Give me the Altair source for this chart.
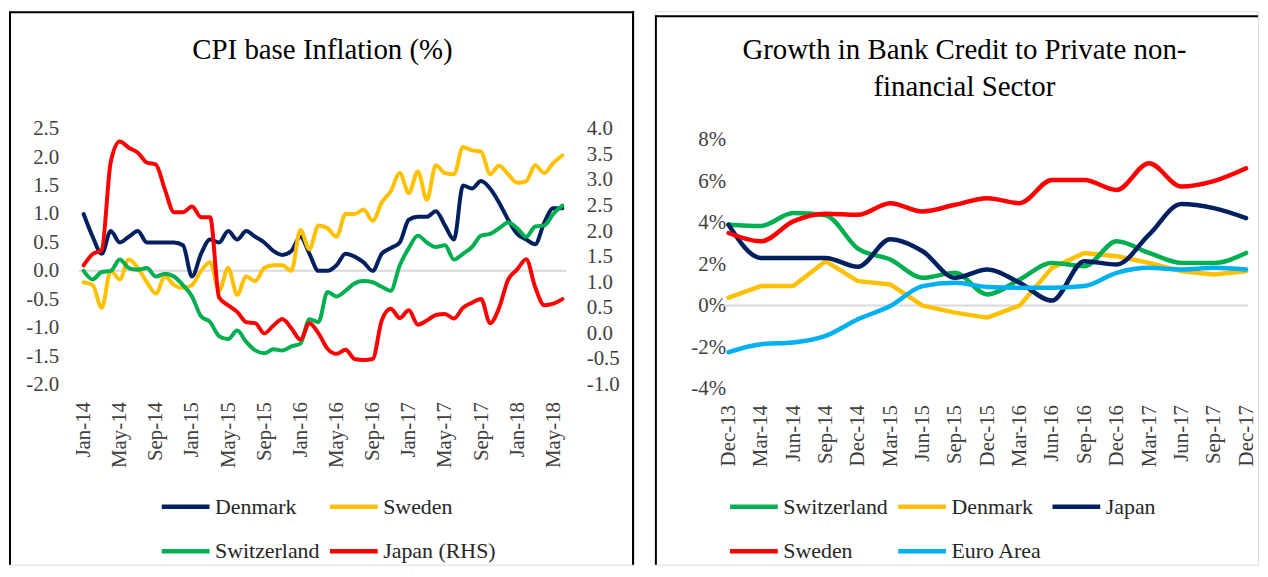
import altair as alt
import pandas as pd

FONT = "Liberation Serif"
LABEL_COLOR = "#404040"

# ---------------- Left panel: CPI base inflation (monthly) ----------------
months = [
    "Jan-14", "Feb-14", "Mar-14", "Apr-14", "May-14", "Jun-14", "Jul-14", "Aug-14", "Sep-14", "Oct-14", "Nov-14", "Dec-14",
    "Jan-15", "Feb-15", "Mar-15", "Apr-15", "May-15", "Jun-15", "Jul-15", "Aug-15", "Sep-15", "Oct-15", "Nov-15", "Dec-15",
    "Jan-16", "Feb-16", "Mar-16", "Apr-16", "May-16", "Jun-16", "Jul-16", "Aug-16", "Sep-16", "Oct-16", "Nov-16", "Dec-16",
    "Jan-17", "Feb-17", "Mar-17", "Apr-17", "May-17", "Jun-17", "Jul-17", "Aug-17", "Sep-17", "Oct-17", "Nov-17", "Dec-17",
    "Jan-18", "Feb-18", "Mar-18", "Apr-18", "May-18", "Jun-18",
]
month_ticks = ["Jan-14", "May-14", "Sep-14", "Jan-15", "May-15", "Sep-15", "Jan-16",
               "May-16", "Sep-16", "Jan-17", "May-17", "Sep-17", "Jan-18", "May-18"]

denmark_cpi = [1.0, 0.6, 0.3, 0.7, 0.5, 0.6, 0.7, 0.5, 0.5, 0.5, 0.5, 0.45,
               -0.1, 0.3, 0.55, 0.5, 0.7, 0.55, 0.7, 0.6, 0.5, 0.35, 0.28, 0.35,
               0.6, 0.3, 0.0, 0.0, 0.1, 0.3, 0.25, 0.15, 0.0, 0.3, 0.4, 0.5,
               0.9, 0.95, 0.95, 1.05, 0.8, 0.55, 1.5, 1.45, 1.58, 1.45, 1.2, 0.9,
               0.65, 0.55, 0.47, 0.85, 1.1, 1.1]
sweden_cpi = [-0.2, -0.25, -0.65, 0.0, -0.15, 0.2, 0.05, -0.2, -0.4, -0.1, -0.25, -0.3,
              -0.25, 0.0, 0.15, -0.35, 0.05, -0.42, -0.1, -0.18, 0.05, 0.1, 0.1, 0.0,
              0.72, 0.38, 0.8, 0.75, 0.6, 1.0, 1.0, 1.08, 0.88, 1.2, 1.4, 1.72,
              1.37, 1.75, 1.25, 1.86, 1.72, 1.7, 2.18, 2.12, 2.1, 1.7, 1.85, 1.7,
              1.55, 1.58, 1.86, 1.72, 1.9, 2.03]
switzerland_cpi = [0.0, -0.15, -0.02, 0.0, 0.2, 0.05, 0.02, 0.05, -0.1, -0.05, -0.1, -0.25,
                   -0.45, -0.8, -0.9, -1.15, -1.2, -1.05, -1.25, -1.4, -1.45, -1.38, -1.4, -1.33,
                   -1.28, -0.85, -0.9, -0.37, -0.45, -0.35, -0.22, -0.18, -0.2, -0.28, -0.35, 0.1,
                   0.4, 0.62, 0.5, 0.42, 0.45, 0.2, 0.3, 0.42, 0.62, 0.65, 0.75, 0.85,
                   0.75, 0.6, 0.78, 0.8, 1.0, 1.15]
japan_cpi = [1.33, 1.55, 1.63, 3.35, 3.75, 3.63, 3.53, 3.34, 3.3, 2.81, 2.37, 2.37,
             2.48, 2.27, 2.27, 0.7, 0.55, 0.42, 0.22, 0.2, 0.0, 0.15, 0.28, 0.1,
             -0.12, 0.2, 0.0, -0.3, -0.4, -0.32, -0.5, -0.52, -0.5, 0.25, 0.48, 0.3,
             0.45, 0.17, 0.25, 0.36, 0.38, 0.29, 0.5, 0.6, 0.67, 0.2, 0.5, 1.05,
             1.25, 1.45, 0.9, 0.55, 0.58, 0.67]

left_domain = ["Denmark", "Sweden", "Switzerland", "Japan (RHS)"]
left_colors = ["#002060", "#FFC000", "#00B050", "#FF0000"]
left_ticks = [-2.0, -1.5, -1.0, -0.5, 0.0, 0.5, 1.0, 1.5, 2.0, 2.5]
right_ticks = [-1.0, -0.5, 0.0, 0.5, 1.0, 1.5, 2.0, 2.5, 3.0, 3.5, 4.0]
left_title = ["CPI base Inflation (%)"]

# ---------------- Right panel: bank credit growth (quarterly) ----------------
quarters = ["Dec-13", "Mar-14", "Jun-14", "Sep-14", "Dec-14", "Mar-15", "Jun-15", "Sep-15", "Dec-15",
            "Mar-16", "Jun-16", "Sep-16", "Dec-16", "Mar-17", "Jun-17", "Sep-17", "Dec-17"]
switzerland_credit = [3.9, 3.84, 4.46, 4.35, 2.75, 2.22, 1.34, 1.58, 0.54, 1.26, 2.06, 1.9, 3.1, 2.54, 2.06, 2.06, 2.54]
denmark_credit = [0.38, 0.94, 0.94, 2.14, 1.18, 1.02, 0.0, -0.34, -0.58, 0.0, 1.82, 2.54, 2.38, 2.06, 1.66, 1.5, 1.66]
japan_credit = [3.9, 2.3, 2.3, 2.3, 1.87, 3.2, 2.62, 1.34, 1.74, 1.1, 0.24, 2.14, 1.98, 3.42, 4.9, 4.7, 4.22]
sweden_credit = [3.5, 3.1, 4.06, 4.43, 4.38, 4.94, 4.54, 4.86, 5.18, 4.94, 6.06, 6.06, 5.58, 6.86, 5.74, 6.0, 6.62]
euro_credit = [-2.25, -1.86, -1.78, -1.46, -0.66, -0.02, 0.94, 1.1, 0.9, 0.86, 0.86, 0.94, 1.58, 1.82, 1.74, 1.82, 1.74]

credit_domain = ["Switzerland", "Denmark", "Japan", "Sweden", "Euro Area"]
credit_colors = ["#00B050", "#FFC000", "#002060", "#FF0000", "#00B0F0"]
credit_ticks = [-4, -2, 0, 2, 4, 6, 8]
right_title = ["Growth in Bank Credit to Private non-", "financial Sector"]

# ---------------- tables ----------------
def long_table(names, series, labels):
    rows = []
    for name, vals in zip(names, series):
        for i, (lab, v) in enumerate(zip(labels, vals)):
            rows.append({"series": name, "period": lab, "idx": i, "value": v})
    return pd.DataFrame(rows)

cpi_df = long_table(left_domain, [denmark_cpi, sweden_cpi, switzerland_cpi, japan_cpi], months)
credit_df = long_table(credit_domain,
                       [switzerland_credit, denmark_credit, japan_credit, sweden_credit, euro_credit],
                       quarters)
one = pd.DataFrame({"k": [0]})

H = 556
W1 = 628
W2 = 606


def axis_common(**kw):
    base = dict(ticks=False, tickSize=0, domain=False, grid=False, title=None,
                labelFont=FONT, labelFontSize=21, labelColor=LABEL_COLOR, labelOverlap=False)
    base.update(kw)
    return alt.Axis(**base)


def legend_common(x, y, columns, col_pad):
    return alt.Legend(orient="none", legendX=x, legendY=y, columns=columns, direction="horizontal",
                      gridAlign="each", title=None, symbolType="stroke", symbolStrokeWidth=4.5,
                      symbolSize=2304, labelFont=FONT, labelFontSize=22, labelColor="#262626",
                      labelOffset=3, columnPadding=col_pad, rowPadding=7, padding=0)


def frame(width, top, right_edge):
    layers = [
        alt.Chart(one).mark_rule(color="black", strokeWidth=2).encode(
            x=alt.value(1), x2=alt.value(width), y=alt.value(top + 1)),
        alt.Chart(one).mark_rule(color="black", strokeWidth=2).encode(
            x=alt.value(1), y=alt.value(top), y2=alt.value(H)),
    ]
    if right_edge:
        layers.append(alt.Chart(one).mark_rule(color="black", strokeWidth=2).encode(
            x=alt.value(width - 1), y=alt.value(top), y2=alt.value(H)))
    return layers


def title_layers(lines, cx, y0, dy):
    df = pd.DataFrame({"line": lines, "row": list(range(len(lines)))})
    return alt.Chart(df).transform_calculate(ypos=f"{y0} + datum.row * {dy}").mark_text(
        font=FONT, fontSize=29, color="black", align="center", baseline="middle").encode(
        x=alt.value(cx), y=alt.Y("ypos:Q", scale=None), text="line:N")


tick_list = "[" + ",".join(f"'{t}'" for t in month_ticks) + "]"

# ---------------- left chart ----------------
x_left = alt.X("period:O",
               scale=alt.Scale(type="point", domain=months, range=[75, 556], padding=0),
               axis=axis_common(labelAngle=270, offset=-166, labelPadding=2,
                                labelExpr=f"indexof({tick_list}, datum.value) >= 0 ? datum.value : ''"))
color_left = alt.Color("series:N", scale=alt.Scale(domain=left_domain, range=left_colors),
                       legend=legend_common(151, 471, 2, 0))

zero_left = alt.Chart(one).mark_rule(color="#D9D9D9", strokeWidth=2).encode(
    x=alt.value(70), x2=alt.value(560), y=alt.datum(0))

lines_left = alt.Chart(cpi_df).transform_filter(
    alt.datum.series != "Japan (RHS)"
).mark_line(strokeWidth=4, strokeCap="round", strokeJoin="round", interpolate="monotone").encode(
    x=x_left,
    y=alt.Y("value:Q",
            scale=alt.Scale(domain=[-2, 2.5], range=[375, 118], nice=False, zero=False),
            axis=axis_common(orient="left", values=left_ticks, offset=-54, labelPadding=4,
                             labelExpr="(datum.value < 0 ? '-' : '') + format(abs(datum.value), '.1f')")),
    color=color_left,
    order=alt.Order("idx:Q"),
)

japan_line = alt.Chart(cpi_df).transform_filter(
    alt.datum.series == "Japan (RHS)"
).mark_line(strokeWidth=4, strokeCap="round", strokeJoin="round", interpolate="monotone").encode(
    x=x_left,
    y=alt.Y("value:Q",
            scale=alt.Scale(domain=[-1, 4], range=[375, 118], nice=False, zero=False),
            axis=axis_common(orient="right", values=right_ticks, offset=-52, labelPadding=4,
                             labelExpr="(datum.value < 0 ? '-' : '') + format(abs(datum.value), '.1f')")),
    color=color_left,
    order=alt.Order("idx:Q"),
)

inner_left = alt.layer(*frame(W1, 0, True), title_layers(left_title, 315, 39, 37), zero_left, lines_left)
left = alt.layer(inner_left, japan_line).resolve_scale(y="independent").properties(width=W1, height=H)

# ---------------- right chart ----------------
x_right = alt.X("period:O",
                scale=alt.Scale(type="point", domain=quarters, range=[74, 594], padding=0),
                axis=axis_common(labelAngle=270, offset=-163, labelPadding=2))
y_right = alt.Y("value:Q",
                scale=alt.Scale(domain=[-4, 8], range=[379, 129], nice=False, zero=False),
                axis=axis_common(orient="left", values=credit_ticks, offset=-75, labelPadding=4,
                                 labelExpr="(datum.value < 0 ? '-' : '') + format(abs(datum.value), 'd') + '%'"))
color_right = alt.Color("series:N", scale=alt.Scale(domain=credit_domain, range=credit_colors),
                        legend=legend_common(73, 471, 3, 0))

zero_right = alt.Chart(one).mark_rule(color="#D9D9D9", strokeWidth=2).encode(
    x=alt.value(69), x2=alt.value(596), y=alt.datum(0))

smooth_right = alt.Chart(credit_df).transform_filter(
    alt.datum.series != "Denmark"
).mark_line(strokeWidth=4.5, strokeCap="round", strokeJoin="round", interpolate="monotone").encode(
    x=x_right, y=y_right, color=color_right, order=alt.Order("idx:Q"))

denmark_right = alt.Chart(credit_df).transform_filter(
    alt.datum.series == "Denmark"
).mark_line(strokeWidth=4.5, strokeCap="round", strokeJoin="round").encode(
    x=x_right, y=y_right, color=color_right, order=alt.Order("idx:Q"))

right = alt.layer(*frame(W2, 4, False), title_layers(right_title, 311, 39, 37), zero_right,
                  denmark_right, smooth_right).properties(width=W2, height=H)

chart = alt.hconcat(left, right, spacing=18).resolve_scale(color="independent").properties(
    padding=0
).configure_view(stroke="transparent").configure(font=FONT)

chart.save("out.html", embed_options={"renderer": "svg", "actions": False})
